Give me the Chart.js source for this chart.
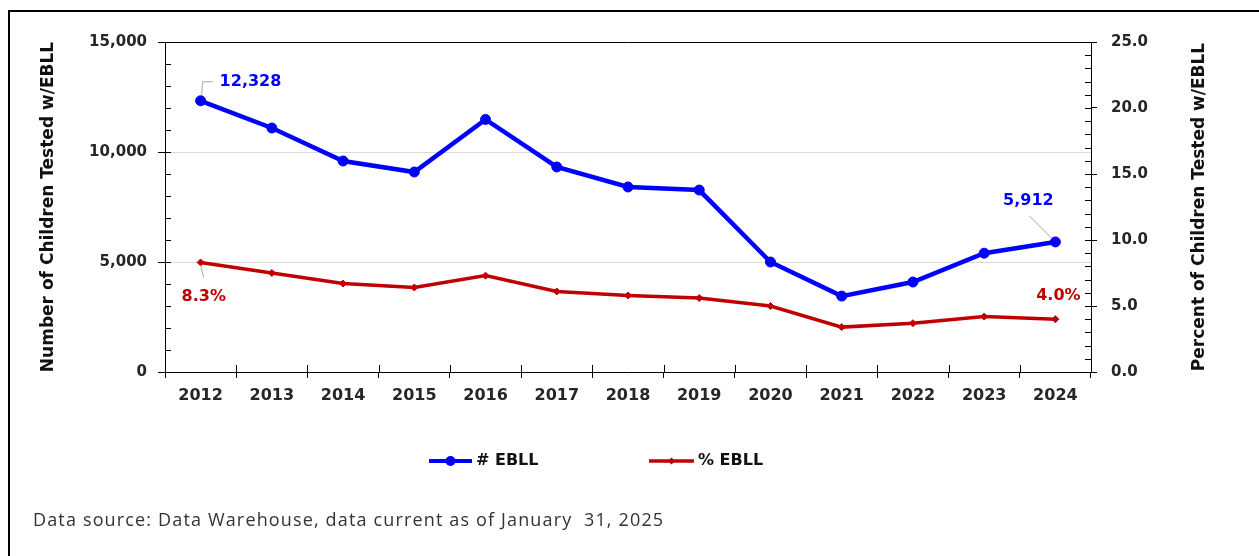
<!DOCTYPE html>
<html>
<head>
<meta charset="utf-8">
<script src="https://cdn.jsdelivr.net/npm/chart.js@4.4.1/dist/chart.umd.min.js"></script>
<style>
  html, body { margin: 0; padding: 0; background: #fff; overflow: hidden; }
  #frame { position: absolute; left: 8px; top: 10px; width: 1400px; height: 700px; border: 2px solid #000; box-sizing: border-box; }
  #wrap { position: absolute; left: 0; top: 0; width: 1259px; height: 556px; }
  #note { position: absolute; left: 33px; top: 507px; font: 18px "Open Sans", sans-serif; letter-spacing: 1.15px; color: #333; white-space: pre; }
</style>
</head>
<body>
<div id="frame"></div>
<div id="wrap"><canvas id="chart"></canvas></div>
<div id="note">Data source: Data Warehouse, data current as of January  31, 2025</div>
<script>
// datos
const years = ['2012', '2013', '2014', '2015', '2016', '2017', '2018', '2019', '2020', '2021', '2022', '2023', '2024'];
const countEbll = [12328, 11090, 9590, 9090, 11480, 9320, 8410, 8270, 5000, 3450, 4090, 5400, 5912];
const pctEbll = [8.3, 7.5, 6.7, 6.4, 7.3, 6.1, 5.8, 5.6, 5.0, 3.4, 3.7, 4.2, 4.0];
const countTicks = [0, 5000, 10000, 15000];
const pctTicks = [0, 5, 10, 15, 20, 25];

const BLUE = '#0000FF';
const RED = '#C00000';
const INK = '#262626';

Chart.defaults.font.family = '"DejaVu Sans", sans-serif';
Chart.defaults.color = INK;

// etiquetas de los extremos: indice, serie, desplazamiento y guia
const callouts = [
  { ds: 0, i: 0, dx: 19, dy: -19, align: 'left', leader: [[1, -6], [2, -19], [12, -19]] },
  { ds: 1, i: 0, dx: -19, dy: 34, align: 'left', leader: [[0, 3], [3, 15]] },
  { ds: 0, i: 12, dx: -27, dy: -41, align: 'center', leader: [[-4, -4], [-26, -26]] },
  { ds: 1, i: 12, dx: 3, dy: -23, align: 'center', leader: null }
];

const extras = {
  id: 'extras',
  beforeDatasetsDraw(chart) {
    const { ctx, chartArea: a, scales } = chart;
    const x = scales.x, yl = scales.yCount, yr = scales.yPct;
    ctx.save();
    ctx.strokeStyle = '#000';
    ctx.lineWidth = 1;
    ctx.beginPath();
    for (let v = yl.min; v <= yl.max; v += 1000) {
      const p = Math.round(yl.getPixelForValue(v)) + 0.5;
      ctx.moveTo(a.left, p); ctx.lineTo(a.left + 6, p);
    }
    for (let v = yr.min; v <= yr.max; v += 1) {
      const p = Math.round(yr.getPixelForValue(v)) + 0.5;
      ctx.moveTo(a.right - 6, p); ctx.lineTo(a.right, p);
    }
    for (let i = 0; i <= years.length; i++) {
      const p = Math.round(x.getPixelForValue(i - 0.5)) + 0.5;
      ctx.moveTo(p, a.bottom - 7); ctx.lineTo(p, a.bottom);
    }
    ctx.stroke();
    ctx.restore();
  },
  afterDatasetsDraw(chart) {
    const { ctx, chartArea: a } = chart;
    ctx.save();
    // etiquetas de datos
    callouts.forEach(c => {
      const el = chart.getDatasetMeta(c.ds).data[c.i];
      const ds = chart.data.datasets[c.ds];
      const v = ds.data[c.i];
      const txt = c.ds === 0 ? v.toLocaleString('en-US') : v.toFixed(1) + '%';
      if (c.leader) {
        ctx.strokeStyle = '#A6A6A6';
        ctx.lineWidth = 1;
        ctx.beginPath();
        c.leader.forEach((pt, k) => {
          const px = el.x + pt[0], py = el.y + pt[1];
          if (k === 0) ctx.moveTo(px, py); else ctx.lineTo(px, py);
        });
        ctx.stroke();
      }
      ctx.fillStyle = ds.borderColor;
      ctx.font = 'bold 16px "DejaVu Sans", sans-serif';
      ctx.textAlign = c.align;
      ctx.textBaseline = 'middle';
      ctx.fillText(txt, el.x + c.dx, el.y + c.dy);
    });

    // titulo del eje derecho (de abajo hacia arriba)
    ctx.fillStyle = '#111';
    ctx.font = 'bold 17px "DejaVu Sans", sans-serif';
    ctx.textAlign = 'center';
    ctx.textBaseline = 'middle';
    ctx.translate(a.right + 109, (a.top + a.bottom) / 2);
    ctx.rotate(-Math.PI / 2);
    ctx.fillText('Percent of Children Tested w/EBLL', 0, 0);
    ctx.restore();

    // leyenda
    ctx.save();
    const ly = a.bottom + 89;
    let lx = a.left + 264;
    chart.data.datasets.forEach((ds, k) => {
      const w = k === 0 ? 43 : 45;
      ctx.strokeStyle = ds.borderColor;
      ctx.fillStyle = ds.borderColor;
      ctx.lineWidth = k === 0 ? 4 : 3.5;
      ctx.beginPath();
      ctx.moveTo(lx, ly); ctx.lineTo(lx + w, ly);
      ctx.stroke();
      const cx = lx + w / 2;
      ctx.beginPath();
      if (k === 0) {
        ctx.arc(cx, ly, 5, 0, Math.PI * 2);
      } else {
        ctx.moveTo(cx, ly - 3.5); ctx.lineTo(cx + 3.5, ly); ctx.lineTo(cx, ly + 3.5); ctx.lineTo(cx - 3.5, ly);
        ctx.closePath();
      }
      ctx.fill();
      ctx.fillStyle = '#111';
      ctx.font = 'bold 16px "DejaVu Sans", sans-serif';
      ctx.textAlign = 'left';
      ctx.textBaseline = 'middle';
      ctx.fillText(ds.label, lx + w + 4, ly);
      lx += 220;
    });
    ctx.restore();
  }
};

new Chart(document.getElementById('chart'), {
  type: 'line',
  data: {
    labels: years,
    datasets: [
      {
        label: '# EBLL',
        data: countEbll,
        yAxisID: 'yCount',
        borderColor: BLUE,
        backgroundColor: BLUE,
        borderWidth: 4.5,
        pointRadius: 5,
        pointHoverRadius: 5,
        pointBorderWidth: 1,
        pointStyle: 'circle',
        tension: 0
      },
      {
        label: '% EBLL',
        data: pctEbll,
        yAxisID: 'yPct',
        borderColor: RED,
        backgroundColor: RED,
        borderWidth: 3.5,
        pointRadius: 3.5,
        pointHoverRadius: 3.5,
        pointBorderWidth: 1,
        pointStyle: 'rectRot',
        tension: 0
      }
    ]
  },
  options: {
    responsive: true,
    maintainAspectRatio: false,
    animation: false,
    events: [],
    layout: { padding: { left: 0, right: 0, top: 42, bottom: 144 } },
    plugins: {
      legend: { display: false },
      tooltip: { enabled: false }
    },
    scales: {
      x: {
        offset: true,
        afterFit: s => { s.height = 40; },
        grid: { offset: true, drawOnChartArea: false, tickLength: 6, tickColor: '#000' },
        border: { color: '#000', width: 1 },
        ticks: { font: { size: 16, weight: 'bold' }, color: INK, padding: 8 }
      },
      yCount: {
        position: 'left',
        min: 0,
        max: 15000,
        afterFit: s => { s.width = 165; },
        afterBuildTicks: s => { s.ticks = []; for (let v = 0; v <= 15000; v += 1000) s.ticks.push({ value: v }); },
        ticks: {
          autoSkip: false,
          font: { size: 15, weight: 'bold' },
          color: INK,
          padding: 11,
          callback: v => countTicks.includes(v) ? v.toLocaleString('en-US') : ''
        },
        grid: {
          tickLength: 7,
          color: c => c.tick.value === 15000 ? '#000' : (c.tick.value > 0 && countTicks.includes(c.tick.value) ? '#D9D9D9' : 'rgba(0,0,0,0)'),
          tickColor: c => countTicks.includes(c.tick.value) ? '#000' : 'rgba(0,0,0,0)'
        },
        border: { color: '#000', width: 1 },
        title: {
          display: true,
          text: 'Number of Children Tested w/EBLL',
          color: '#111',
          font: { size: 17, weight: 'bold' },
          padding: { top: 38, bottom: 0 }
        }
      },
      yPct: {
        position: 'right',
        min: 0,
        max: 25,
        afterFit: s => { s.width = 168; },
        afterBuildTicks: s => { s.ticks = []; for (let v = 0; v <= 25; v += 1) s.ticks.push({ value: v }); },
        ticks: {
          autoSkip: false,
          font: { size: 15, weight: 'bold' },
          color: INK,
          padding: 14,
          callback: v => pctTicks.includes(v) ? v.toFixed(1) : ''
        },
        grid: {
          drawOnChartArea: false,
          tickLength: 6,
          tickColor: c => pctTicks.includes(c.tick.value) ? '#000' : 'rgba(0,0,0,0)'
        },
        border: { color: '#000', width: 1 }
      }
    }
  },
  plugins: [extras]
});
</script>
</body>
</html>
